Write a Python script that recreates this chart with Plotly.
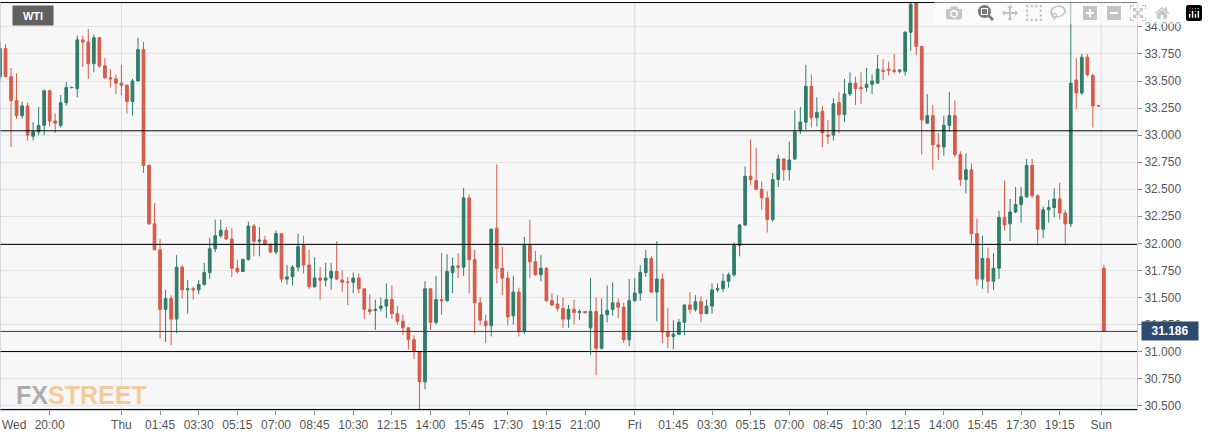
import plotly.graph_objects as go

# WTI 15-minute candles (index 0..200)
opens = [33.54, 33.80, 33.54, 33.32, 33.18, 33.27, 32.99, 33.03, 33.09, 33.41,
         33.13, 33.09, 33.30, 33.44, 33.43, 33.88, 33.86, 33.66, 33.90, 33.64,
         33.53, 33.52, 33.48, 33.46, 33.31, 33.50, 33.79, 32.72, 32.18, 31.94,
         31.39, 31.49, 31.30, 31.78, 31.57, 31.58, 31.57, 31.62, 31.73, 31.95,
         32.07, 32.12, 32.04, 31.77, 31.74, 31.85, 32.16, 32.02, 32.03, 31.99,
         31.92, 32.09, 31.67, 31.69, 31.78, 31.98, 31.80, 31.60, 31.68, 31.66,
         31.68, 31.74, 31.66, 31.64, 31.64, 31.68, 31.58, 31.39, 31.38, 31.40,
         31.42, 31.48, 31.35, 31.28, 31.22, 31.11, 31.00, 30.72, 31.58, 31.27,
         31.48, 31.47, 31.73, 31.79, 31.78, 32.42, 31.85, 31.45, 31.28, 31.24,
         32.14, 31.77, 31.68, 31.33, 31.55, 31.19, 31.98, 31.83, 31.71, 31.77,
         31.47, 31.44, 31.40, 31.30, 31.39, 31.36, 31.37, 31.22, 31.37, 31.03,
         31.34, 31.39, 31.45, 31.41, 31.11, 31.47, 31.54, 31.73, 31.86, 31.55,
         31.67, 31.18, 31.14, 31.16, 31.27, 31.43, 31.39, 31.46, 31.35, 31.42,
         31.57, 31.58, 31.65, 31.71, 31.98, 32.17, 32.62, 32.58, 32.50, 32.42,
         32.22, 32.59, 32.78, 32.68, 32.78, 33.05, 33.12, 33.45, 33.16, 33.22,
         33.00, 33.00, 33.30, 33.19, 33.38, 33.48, 33.44, 33.44, 33.47, 33.48,
         33.60, 33.61, 33.60, 33.59, 33.59, 33.95, 34.23, 33.82, 33.11, 33.18,
         32.91, 32.89, 33.09, 33.18, 32.82, 32.59, 32.68, 32.09, 31.67, 31.86,
         31.65, 31.77, 32.24, 32.18, 32.29, 32.36, 32.43, 32.72, 32.44, 32.13,
         32.31, 32.33, 32.41, 32.28, 32.18, 33.51, 33.39, 33.72, 33.55, 33.27,
         31.77]
highs = [33.86, 33.84, 33.62, 33.57, 33.31, 33.30, 33.12, 33.26, 33.42, 33.42,
         33.20, 33.37, 33.49, 33.45, 33.92, 33.92, 33.98, 33.93, 33.90, 33.71,
         33.61, 33.56, 33.65, 33.47, 33.52, 33.90, 33.86, 32.73, 32.37, 32.04,
         31.57, 31.52, 31.89, 31.80, 31.66, 31.60, 31.66, 31.82, 32.05, 32.22,
         32.22, 32.15, 32.14, 31.85, 31.86, 32.20, 32.18, 32.15, 32.07, 32.00,
         32.12, 32.09, 31.80, 31.80, 32.09, 32.07, 31.94, 31.87, 31.78, 31.82,
         31.82, 32.02, 31.75, 31.69, 31.73, 31.72, 31.58, 31.53, 31.48, 31.50,
         31.63, 31.61, 31.42, 31.34, 31.22, 31.15, 31.00, 31.65, 31.58, 31.70,
         31.91, 31.90, 31.87, 31.91, 32.51, 32.45, 31.94, 31.50, 31.34, 32.14,
         32.73, 31.97, 31.74, 31.70, 31.59, 32.06, 32.22, 31.93, 31.89, 31.78,
         31.54, 31.52, 31.50, 31.43, 31.48, 31.39, 31.37, 31.68, 31.50, 31.49,
         31.61, 31.64, 31.49, 31.45, 31.67, 31.68, 31.80, 31.94, 31.88, 32.02,
         31.72, 31.40, 31.29, 31.30, 31.44, 31.55, 31.52, 31.51, 31.48, 31.63,
         31.63, 31.72, 31.73, 32.01, 32.18, 32.71, 32.96, 32.88, 32.57, 32.48,
         32.65, 32.82, 32.78, 32.94, 33.23, 33.26, 33.65, 33.56, 33.35, 33.27,
         33.14, 33.34, 33.40, 33.52, 33.58, 33.54, 33.58, 33.62, 33.56, 33.74,
         33.70, 33.68, 33.75, 33.61, 33.96, 34.23, 34.23, 33.82, 33.38, 33.28,
         33.02, 33.18, 33.40, 33.32, 32.85, 32.83, 32.74, 32.23, 32.07, 31.96,
         31.91, 32.30, 32.58, 32.41, 32.52, 32.52, 32.78, 32.78, 32.45, 32.34,
         32.40, 32.51, 32.56, 32.31, 34.23, 33.71, 33.75, 33.75, 33.57, 33.28,
         31.80]
lows = [33.50, 33.54, 32.89, 33.15, 33.15, 32.95, 32.95, 33.00, 33.00, 33.08,
        33.02, 33.07, 33.27, 33.43, 33.35, 33.63, 33.52, 33.58, 33.62, 33.52,
        33.44, 33.38, 33.37, 33.20, 33.18, 33.50, 32.65, 32.17, 31.94, 31.12,
        31.09, 31.06, 31.17, 31.49, 31.35, 31.48, 31.53, 31.61, 31.67, 31.92,
        32.05, 32.03, 31.69, 31.72, 31.74, 31.84, 31.88, 31.88, 31.98, 31.91,
        31.90, 31.64, 31.62, 31.61, 31.74, 31.72, 31.58, 31.59, 31.48, 31.60,
        31.57, 31.66, 31.55, 31.43, 31.54, 31.54, 31.30, 31.34, 31.20, 31.37,
        31.31, 31.30, 31.25, 31.15, 31.02, 30.93, 30.43, 30.65, 31.20, 31.25,
        31.34, 31.46, 31.54, 31.68, 31.70, 31.54, 31.17, 31.24, 31.08, 31.14,
        31.63, 31.52, 31.24, 31.25, 31.14, 31.16, 31.68, 31.70, 31.65, 31.46,
        31.42, 31.37, 31.22, 31.22, 31.25, 31.29, 31.35, 30.97, 30.78, 31.02,
        31.27, 31.33, 31.31, 31.08, 31.05, 31.46, 31.47, 31.69, 31.54, 31.28,
        31.08, 31.03, 31.02, 31.15, 31.15, 31.35, 31.37, 31.27, 31.35, 31.35,
        31.55, 31.55, 31.59, 31.69, 31.88, 32.16, 32.54, 32.49, 32.31, 32.10,
        32.20, 32.52, 32.58, 32.58, 32.77, 33.01, 33.05, 33.07, 33.08, 32.89,
        32.92, 32.95, 33.02, 33.12, 33.36, 33.28, 33.29, 33.40, 33.38, 33.48,
        33.51, 33.55, 33.57, 33.57, 33.55, 33.78, 33.74, 32.82, 33.11, 32.68,
        32.77, 32.81, 33.03, 32.80, 32.53, 32.46, 32.00, 31.61, 31.58, 31.54,
        31.57, 31.67, 32.12, 32.02, 32.28, 32.19, 32.42, 32.42, 31.98, 32.05,
        32.19, 32.24, 32.22, 31.98, 32.15, 33.24, 33.37, 33.54, 33.07, 33.26,
        31.18]
closes = [33.80, 33.54, 33.32, 33.18, 33.27, 33.00, 33.03, 33.09, 33.41, 33.13,
          33.11, 33.30, 33.44, 33.44, 33.88, 33.86, 33.66, 33.90, 33.64, 33.53,
          33.52, 33.48, 33.46, 33.31, 33.50, 33.79, 32.72, 32.18, 31.94, 31.39,
          31.49, 31.30, 31.78, 31.57, 31.58, 31.57, 31.62, 31.73, 31.95, 32.07,
          32.12, 32.04, 31.77, 31.74, 31.85, 32.16, 32.02, 32.03, 31.99, 31.92,
          32.09, 31.67, 31.69, 31.78, 31.97, 31.80, 31.60, 31.68, 31.66, 31.68,
          31.74, 31.67, 31.64, 31.64, 31.68, 31.58, 31.39, 31.37, 31.39, 31.42,
          31.48, 31.35, 31.28, 31.22, 31.11, 31.00, 30.72, 31.58, 31.27, 31.48,
          31.47, 31.74, 31.79, 31.78, 32.42, 31.85, 31.45, 31.29, 31.24, 32.13,
          31.77, 31.68, 31.32, 31.55, 31.19, 31.98, 31.83, 31.71, 31.77, 31.47,
          31.43, 31.40, 31.30, 31.39, 31.36, 31.37, 31.36, 31.37, 31.03, 31.34,
          31.38, 31.45, 31.41, 31.11, 31.47, 31.54, 31.73, 31.86, 31.55, 31.67,
          31.18, 31.14, 31.16, 31.27, 31.43, 31.39, 31.46, 31.35, 31.42, 31.57,
          31.58, 31.65, 31.71, 31.98, 32.17, 32.62, 32.59, 32.50, 32.42, 32.22,
          32.59, 32.78, 32.68, 32.77, 33.03, 33.12, 33.45, 33.16, 33.21, 33.02,
          32.99, 33.29, 33.19, 33.38, 33.48, 33.43, 33.43, 33.47, 33.50, 33.61,
          33.59, 33.60, 33.59, 33.60, 33.95, 34.21, 33.82, 33.14, 33.18, 32.91,
          32.89, 33.09, 33.18, 32.82, 32.59, 32.68, 32.09, 31.67, 31.86, 31.65,
          31.77, 32.24, 32.17, 32.29, 32.36, 32.43, 32.72, 32.44, 32.13, 32.31,
          32.33, 32.41, 32.28, 32.18, 33.48, 33.39, 33.72, 33.56, 33.27, 33.27,
          31.186]

tick_pos = [9, 22, 29, 36, 43, 50, 57, 64, 71, 78, 85, 92, 99, 106,
            115, 122, 129, 136, 143, 150, 157, 164, 171, 178, 185, 192, 199.5]
tick_text = ["20:00", "Thu", "01:45", "03:30", "05:15", "07:00", "08:45",
             "10:30", "12:15", "14:00", "15:45", "17:30", "19:15", "21:00",
             "Fri", "01:45", "03:30", "05:15", "07:00", "08:45", "10:30",
             "12:15", "14:00", "15:45", "17:30", "19:15", "Sun"]
first_day = "Wed"
day_pos = [22, 115, 199.5]
levels = [33.04, 31.99, 31.0]
last_price = 31.186

GREEN = "#2f7d6a"
RED = "#d85a48"

fig = go.Figure(go.Candlestick(
    x=list(range(len(closes))), open=opens, high=highs, low=lows, close=closes,
    increasing=dict(line=dict(color=GREEN, width=1), fillcolor=GREEN),
    decreasing=dict(line=dict(color=RED, width=1), fillcolor=RED),
    whiskerwidth=0, showlegend=False, hoverinfo="none",
))

for d in day_pos:
    fig.add_vline(x=d, line=dict(color="#dddddd", width=1), layer="below")
for lv in levels:
    fig.add_hline(y=lv, line=dict(color="black", width=1))
fig.add_hline(y=34.225, line=dict(color="black", width=1))
fig.add_hline(y=30.465, line=dict(color="black", width=1))
fig.add_hline(y=last_price, line=dict(color="#2c3e5e", width=1))

fig.add_annotation(x=1, xref="paper", xanchor="left", xshift=4, y=last_price,
                   text="<b>%.3f</b>" % last_price, showarrow=False,
                   font=dict(color="white", size=12), bgcolor="#2d4a70",
                   width=52, borderpad=2)
fig.add_annotation(x=2.2, xref="x", xanchor="left", y=1, yref="paper", yshift=-3,
                   yanchor="top", text="<b>WTI</b>", showarrow=False,
                   font=dict(color="white", size=11), bgcolor="#616161",
                   width=40, height=19, borderpad=0)
fig.add_annotation(x=0, xref="paper", xanchor="left", y=0, yref="paper",
                   yanchor="top", yshift=-6, text=first_day, showarrow=False)
fig.add_annotation(x=2.6, xref="x", xanchor="left", y=30.6, yanchor="middle",
                   text="<b><span style='color:#a0a0a0'>FX</span><span style='color:#f3c48c'>STREET</span></b>",
                   showarrow=False, font=dict(size=25, family="Liberation Sans Narrow, Liberation Sans"),
                   opacity=0.85)

fig.update_layout(
    width=1208, height=440,
    margin=dict(l=0, r=71, t=2, b=30),
    paper_bgcolor="white", plot_bgcolor="#f7f7f7",
    font=dict(family="Liberation Sans, Arial", size=12, color="#555555"),
    xaxis=dict(range=[0, 206], rangeslider=dict(visible=False),
               tickvals=tick_pos, ticktext=tick_text, showgrid=False,
               ticks="outside", ticklen=4, tickcolor="#888888",
               showline=True, linecolor="#c8cbd8", zeroline=False),
    yaxis=dict(side="right", range=[30.46, 34.23], dtick=0.25, tick0=30.5,
               tickformat=".3f", gridcolor="#e4e4e4", ticks="outside",
               ticklen=4, tickcolor="#888888", showline=True,
               linecolor="#c8cbd8", zeroline=False),
)
fig.add_shape(type="line", xref="paper", yref="paper", x0=0, x1=0, y0=0, y1=1,
              line=dict(color="#b8bfd6", width=1))

fig.write_html("out.html", post_script="document.body.style.margin='0';")
